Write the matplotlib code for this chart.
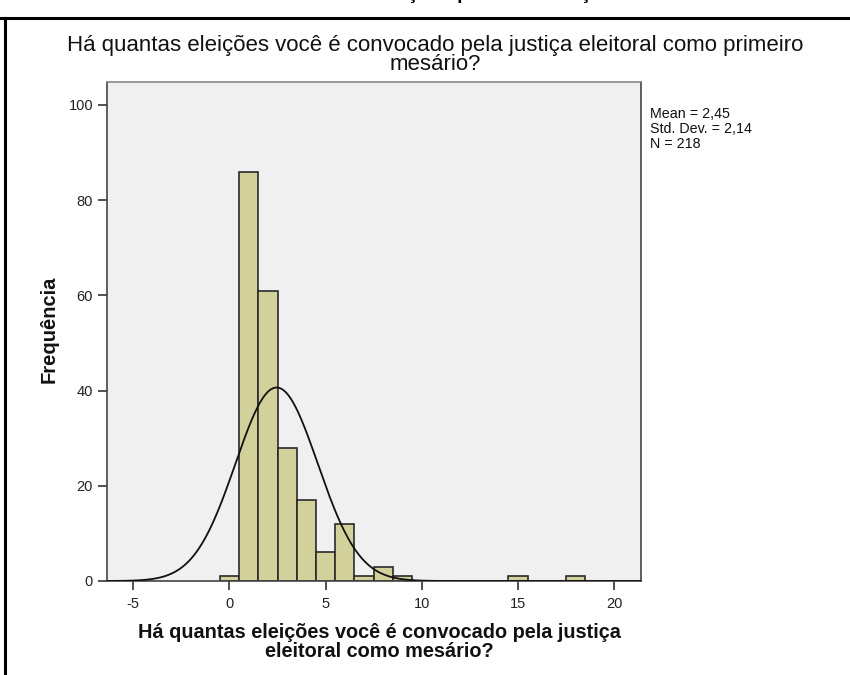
import numpy as np
import matplotlib
matplotlib.use("Agg")
import matplotlib.pyplot as plt
from matplotlib.lines import Line2D

# Data
bin_centers = [0, 1, 2, 3, 4, 5, 6, 7, 8, 9, 15, 18]
counts = [1, 86, 61, 28, 17, 6, 12, 1, 3, 1, 1, 1]
mean_val = 2.45
std_val = 2.14
n_val = 218
x_ticks = [-5, 0, 5, 10, 15, 20]
y_ticks = [0, 20, 40, 60, 80, 100]

title = "Há quantas eleições você é convocado pela justiça eleitoral como primeiro\nmesário?"
xlabel = "Há quantas eleições você é convocado pela justiça\neleitoral como mesário?"
ylabel = "Frequência"
stats_text = "Mean = 2,45\nStd. Dev. = 2,14\nN = 218"
cut_text = "Número de convocações para esta eleição"

plt.rcParams['font.family'] = ['Liberation Sans', 'DejaVu Sans']
plt.rcParams['axes.unicode_minus'] = False

W, H = 850, 675
fig = plt.figure(figsize=(W / 100, H / 100), dpi=100)
fig.patch.set_facecolor('white')

def fx(px):
    return px / W

def fy(py):
    return 1 - py / H

ax = fig.add_axes([fx(107), fy(581), fx(641) - fx(107), fy(82) - fy(581)])
ax.set_facecolor('#f0f0f0')

ax.bar(bin_centers, counts, width=1.0, color='#d3d19b', edgecolor='#2a2a2a',
       linewidth=1.2, zorder=2)

xs = np.linspace(-6.4, 21.4, 600)
pdf = n_val * 1.0 * np.exp(-0.5 * ((xs - mean_val) / std_val) ** 2) / (std_val * np.sqrt(2 * np.pi))
ax.plot(xs, pdf, color='#111111', linewidth=1.3, zorder=3)

ax.set_xlim(-6.37, 21.4)
ax.set_ylim(0, 104.8)
ax.set_xticks(x_ticks)
ax.set_yticks(y_ticks)
ax.tick_params(direction='out', length=6.5, width=1.2, colors='#333333',
               labelsize=10.5, labelcolor='#222222')
ax.tick_params(axis='x', pad=5)
for side in ['left', 'bottom', 'right', 'top']:
    ax.spines[side].set_color('#444444')
    ax.spines[side].set_linewidth(1.2)
ax.spines['top'].set_color('#888888')

fig.text(fx(379), fy(642), xlabel, ha='center', va='center', fontsize=14.3,
         fontweight='bold', linespacing=0.95, color='#111111')
fig.text(fx(49), fy(329), ylabel, ha='center', va='center', rotation=90,
         fontsize=14.5, fontweight='bold', color='#111111')

fig.text(fx(435), fy(55), title, ha='center', va='center', fontsize=16,
         linespacing=0.9, color='#111111')

fig.text(fx(650), fy(129), stats_text, ha='left', va='center', fontsize=10.3,
         linespacing=1.05, color='#111111')

# top cut-off caption (only the descenders remain visible)
renderer = fig.canvas.get_renderer()
probe = fig.text(0, 0, cut_text[:cut_text.index('ç')], fontsize=14, fontweight='bold')
w_prefix = probe.get_window_extent(renderer).width
probe.remove()
probe = fig.text(0, 0, 'ç', fontsize=14, fontweight='bold')
w_c = probe.get_window_extent(renderer).width
probe.remove()
x_left = 413 - w_prefix - w_c / 2
fig.text(fx(x_left), fy(-1), cut_text, ha='left', va='baseline', fontsize=14,
         fontweight='bold', color='black')

# frame lines of the screenshot
fig.add_artist(Line2D([fx(0), fx(850)], [fy(18), fy(18)], color='black', linewidth=2.2))
fig.add_artist(Line2D([fx(5), fx(5)], [fy(18), fy(675)], color='black', linewidth=2.2))

fig.savefig('out.png', dpi=100)
